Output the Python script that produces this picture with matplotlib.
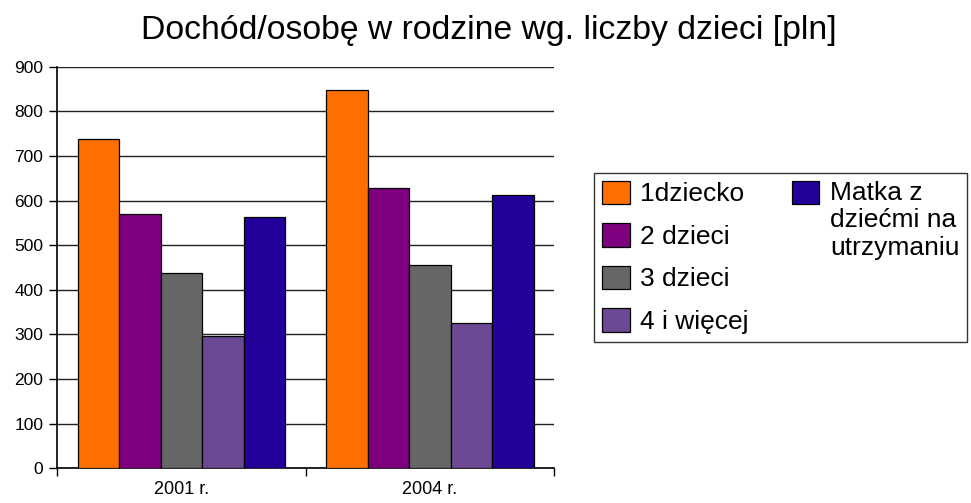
import matplotlib
matplotlib.use("Agg")
import matplotlib.pyplot as plt
import matplotlib.patches as mpatches
import numpy as np

plt.rcParams['font.family'] = ['Liberation Sans', 'DejaVu Sans']

years = ["2001 r.", "2004 r."]
series = ["1dziecko", "2 dzieci", "3 dzieci", "4 i więcej", "Matka z\ndziećmi na\nutrzymaniu"]
values = [
    [737, 847],   # 1dziecko
    [569, 628],   # 2 dzieci
    [437, 455],   # 3 dzieci
    [297, 325],   # 4 i wiecej
    [563, 613],   # Matka z dziecmi
]
colors = ["#FF6E00", "#7F007F", "#666666", "#6B4994", "#220099"]

W, H = 971, 503
fig = plt.figure(figsize=(W / 100, H / 100), dpi=100)
ax = fig.add_axes([57.3 / W, 1 - 468.3 / H, (554.3 - 57.3) / W, (468.3 - 66.7) / H])

x = np.arange(len(years))
bw = 0.167
for i, (name, vals, col) in enumerate(zip(series, values, colors)):
    ax.bar(x + (i - 2) * bw, vals, bw, color=col, edgecolor="black", linewidth=0.9, zorder=3)

ax.set_xlim(-0.5, 1.5)
ax.set_ylim(0, 900)
ax.set_yticks(np.arange(0, 901, 100))
ax.yaxis.grid(True, color="#222222", linewidth=1.0, zorder=0)
ax.tick_params(axis="y", length=6, width=1, labelsize=12.5, pad=4)

# category boundaries as ticks, names between them
ax.set_xticks([-0.5, 0.5, 1.5])
ax.set_xticklabels([])
ax.set_xticks(x, minor=True)
ax.set_xticklabels(years, minor=True, fontsize=13)
ax.tick_params(axis="x", which="major", length=6, width=1)
ax.tick_params(axis="x", which="minor", length=0, pad=9)

for s in ["top", "right"]:
    ax.spines[s].set_visible(False)
for s in ["left", "bottom"]:
    ax.spines[s].set_linewidth(1.2)

fig.suptitle("Dochód/osobę w rodzine wg. liczby dzieci [pln]", x=0.503, y=1 - 30 / H,
             va="center", fontsize=24.3)

# legend: 4 entries in the first column, the long one alone in the second
handles = [mpatches.Patch(facecolor=c, edgecolor="black", linewidth=0.9) for c in colors]
blank = mpatches.Patch(visible=False)
leg_handles = handles[:4] + [handles[4], blank, blank, blank]
leg_labels = series[:4] + [series[4], "", "", ""]
leg = fig.legend(leg_handles, leg_labels, ncol=2, loc="upper left",
                 bbox_to_anchor=(594 / W, 1 - 172.7 / H), fontsize=19,
                 frameon=True, fancybox=False, framealpha=1, edgecolor="#333333",
                 handlelength=1.05, handleheight=1.0, handletextpad=0.4,
                 labelspacing=0.63, columnspacing=1.63, borderpad=0.3, borderaxespad=0)
leg.get_frame().set_linewidth(1.0)
# columns aligned at the top, drop the blank fillers, square next to first line
box = leg._legend_handle_box
box.align = "top"
cols = box.get_children()
del cols[1].get_children()[1:]
cols[1].get_children()[0].align = "top"

fig.savefig("out.png", dpi=100)
